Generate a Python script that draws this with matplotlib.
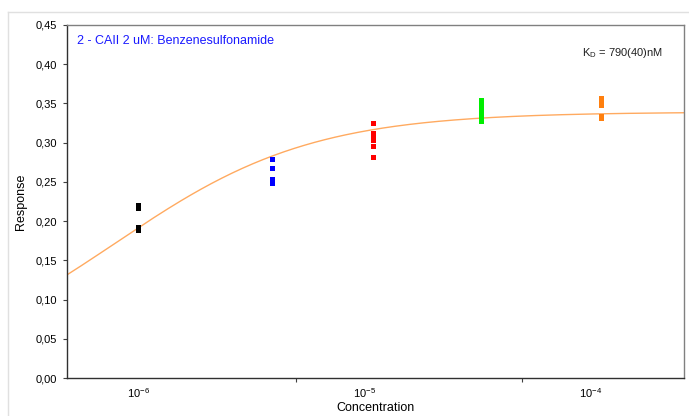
import numpy as np
import matplotlib
matplotlib.use("Agg")
import matplotlib.pyplot as plt
from matplotlib.ticker import FixedLocator, FuncFormatter
from matplotlib.lines import Line2D

plt.rcParams['font.family'] = ['Liberation Sans', 'DejaVu Sans']
plt.rcParams['axes.unicode_minus'] = False

# Measured responses per concentration (M)
conc_black = [1.0e-6] * 4
resp_black = [0.221, 0.217, 0.193, 0.188]
conc_blue = [3.9e-6] * 4
resp_blue = [0.279, 0.267, 0.253, 0.248]
conc_red = [1.1e-5] * 6
resp_red = [0.325, 0.312, 0.308, 0.303, 0.296, 0.282]
conc_green = [3.3e-5] * 8
resp_green = [0.354, 0.350, 0.346, 0.342, 0.338, 0.334, 0.330, 0.327]
conc_orange = [1.12e-4] * 5
resp_orange = [0.357, 0.353, 0.348, 0.334, 0.331]

# 1:1 binding fit parameters
KD = 790e-9
RMAX = 0.335
OFFSET = 0.004

groups = [
    (conc_black, resp_black, '#000000'),
    (conc_blue, resp_blue, '#0000ff'),
    (conc_red, resp_red, '#ff0000'),
    (conc_green, resp_green, '#00ee00'),
    (conc_orange, resp_orange, '#ff7f0e'),
]

fig = plt.figure(figsize=(6.89, 4.16), dpi=100)
ax = fig.add_axes([0.0972, 0.0913, 0.8955, 0.849])

xmin, xmax = 4.85e-7, 2.6e-4
c = np.logspace(np.log10(xmin), np.log10(xmax), 300)
ax.plot(c, OFFSET + RMAX * c / (KD + c), color='#ffaa60', lw=1.0, zorder=2)

for xs, ys, col in groups:
    ax.plot(xs, ys, ls='none', marker='s', ms=3.6, mew=0, color=col, zorder=3)

ax.set_xscale('log')
ax.set_xlim(xmin, xmax)
ax.set_ylim(0, 0.45)

ax.xaxis.set_major_locator(FixedLocator([1e-6, 1e-5, 1e-4]))
ax.xaxis.set_minor_locator(FixedLocator([5e-6, 5e-5]))
ax.xaxis.set_major_formatter(FuncFormatter(
    lambda v, p: '10$^{\\mathregular{ %d}}$' % round(np.log10(v))))
ax.xaxis.set_minor_formatter(FuncFormatter(lambda v, p: ''))
ax.set_yticks(np.arange(0, 0.451, 0.05))
ax.yaxis.set_major_formatter(FuncFormatter(lambda v, p: ('%.2f' % v).replace('.', ',')))

ax.tick_params(axis='both', labelsize=8, length=3, width=0.8, color='#404040', pad=4)
ax.tick_params(axis='x', which='major', length=0, pad=6)
ax.tick_params(axis='x', which='minor', length=3, width=0.8, color='#404040')

for side in ['left', 'bottom']:
    ax.spines[side].set_color('#303030')
    ax.spines[side].set_linewidth(1.0)
for side in ['top', 'right']:
    ax.spines[side].set_color('#808080')
    ax.spines[side].set_linewidth(1.0)

ax.set_xlabel('Concentration', fontsize=9, labelpad=1)
ax.set_ylabel('Response', fontsize=9, labelpad=6)

ax.text(0.017, 0.972, '2 - CAII 2 uM: Benzenesulfonamide', transform=ax.transAxes,
        color='#1a1aff', fontsize=9, va='top', ha='left')
ax.text(0.835, 0.94, 'K$_{\\mathregular{D}}$ = 790(40)nM', transform=ax.transAxes,
        color='#202020', fontsize=8, va='top', ha='left')

# light outer frame
fig.add_artist(Line2D([8 / 689, 1], [1 - 12 / 416, 1 - 12 / 416],
                      transform=fig.transFigure, color='#e0e0e0', lw=1))
fig.add_artist(Line2D([8 / 689, 8 / 689], [0, 1 - 12 / 416],
                      transform=fig.transFigure, color='#e0e0e0', lw=1))

fig.savefig('out.png', dpi=100)
